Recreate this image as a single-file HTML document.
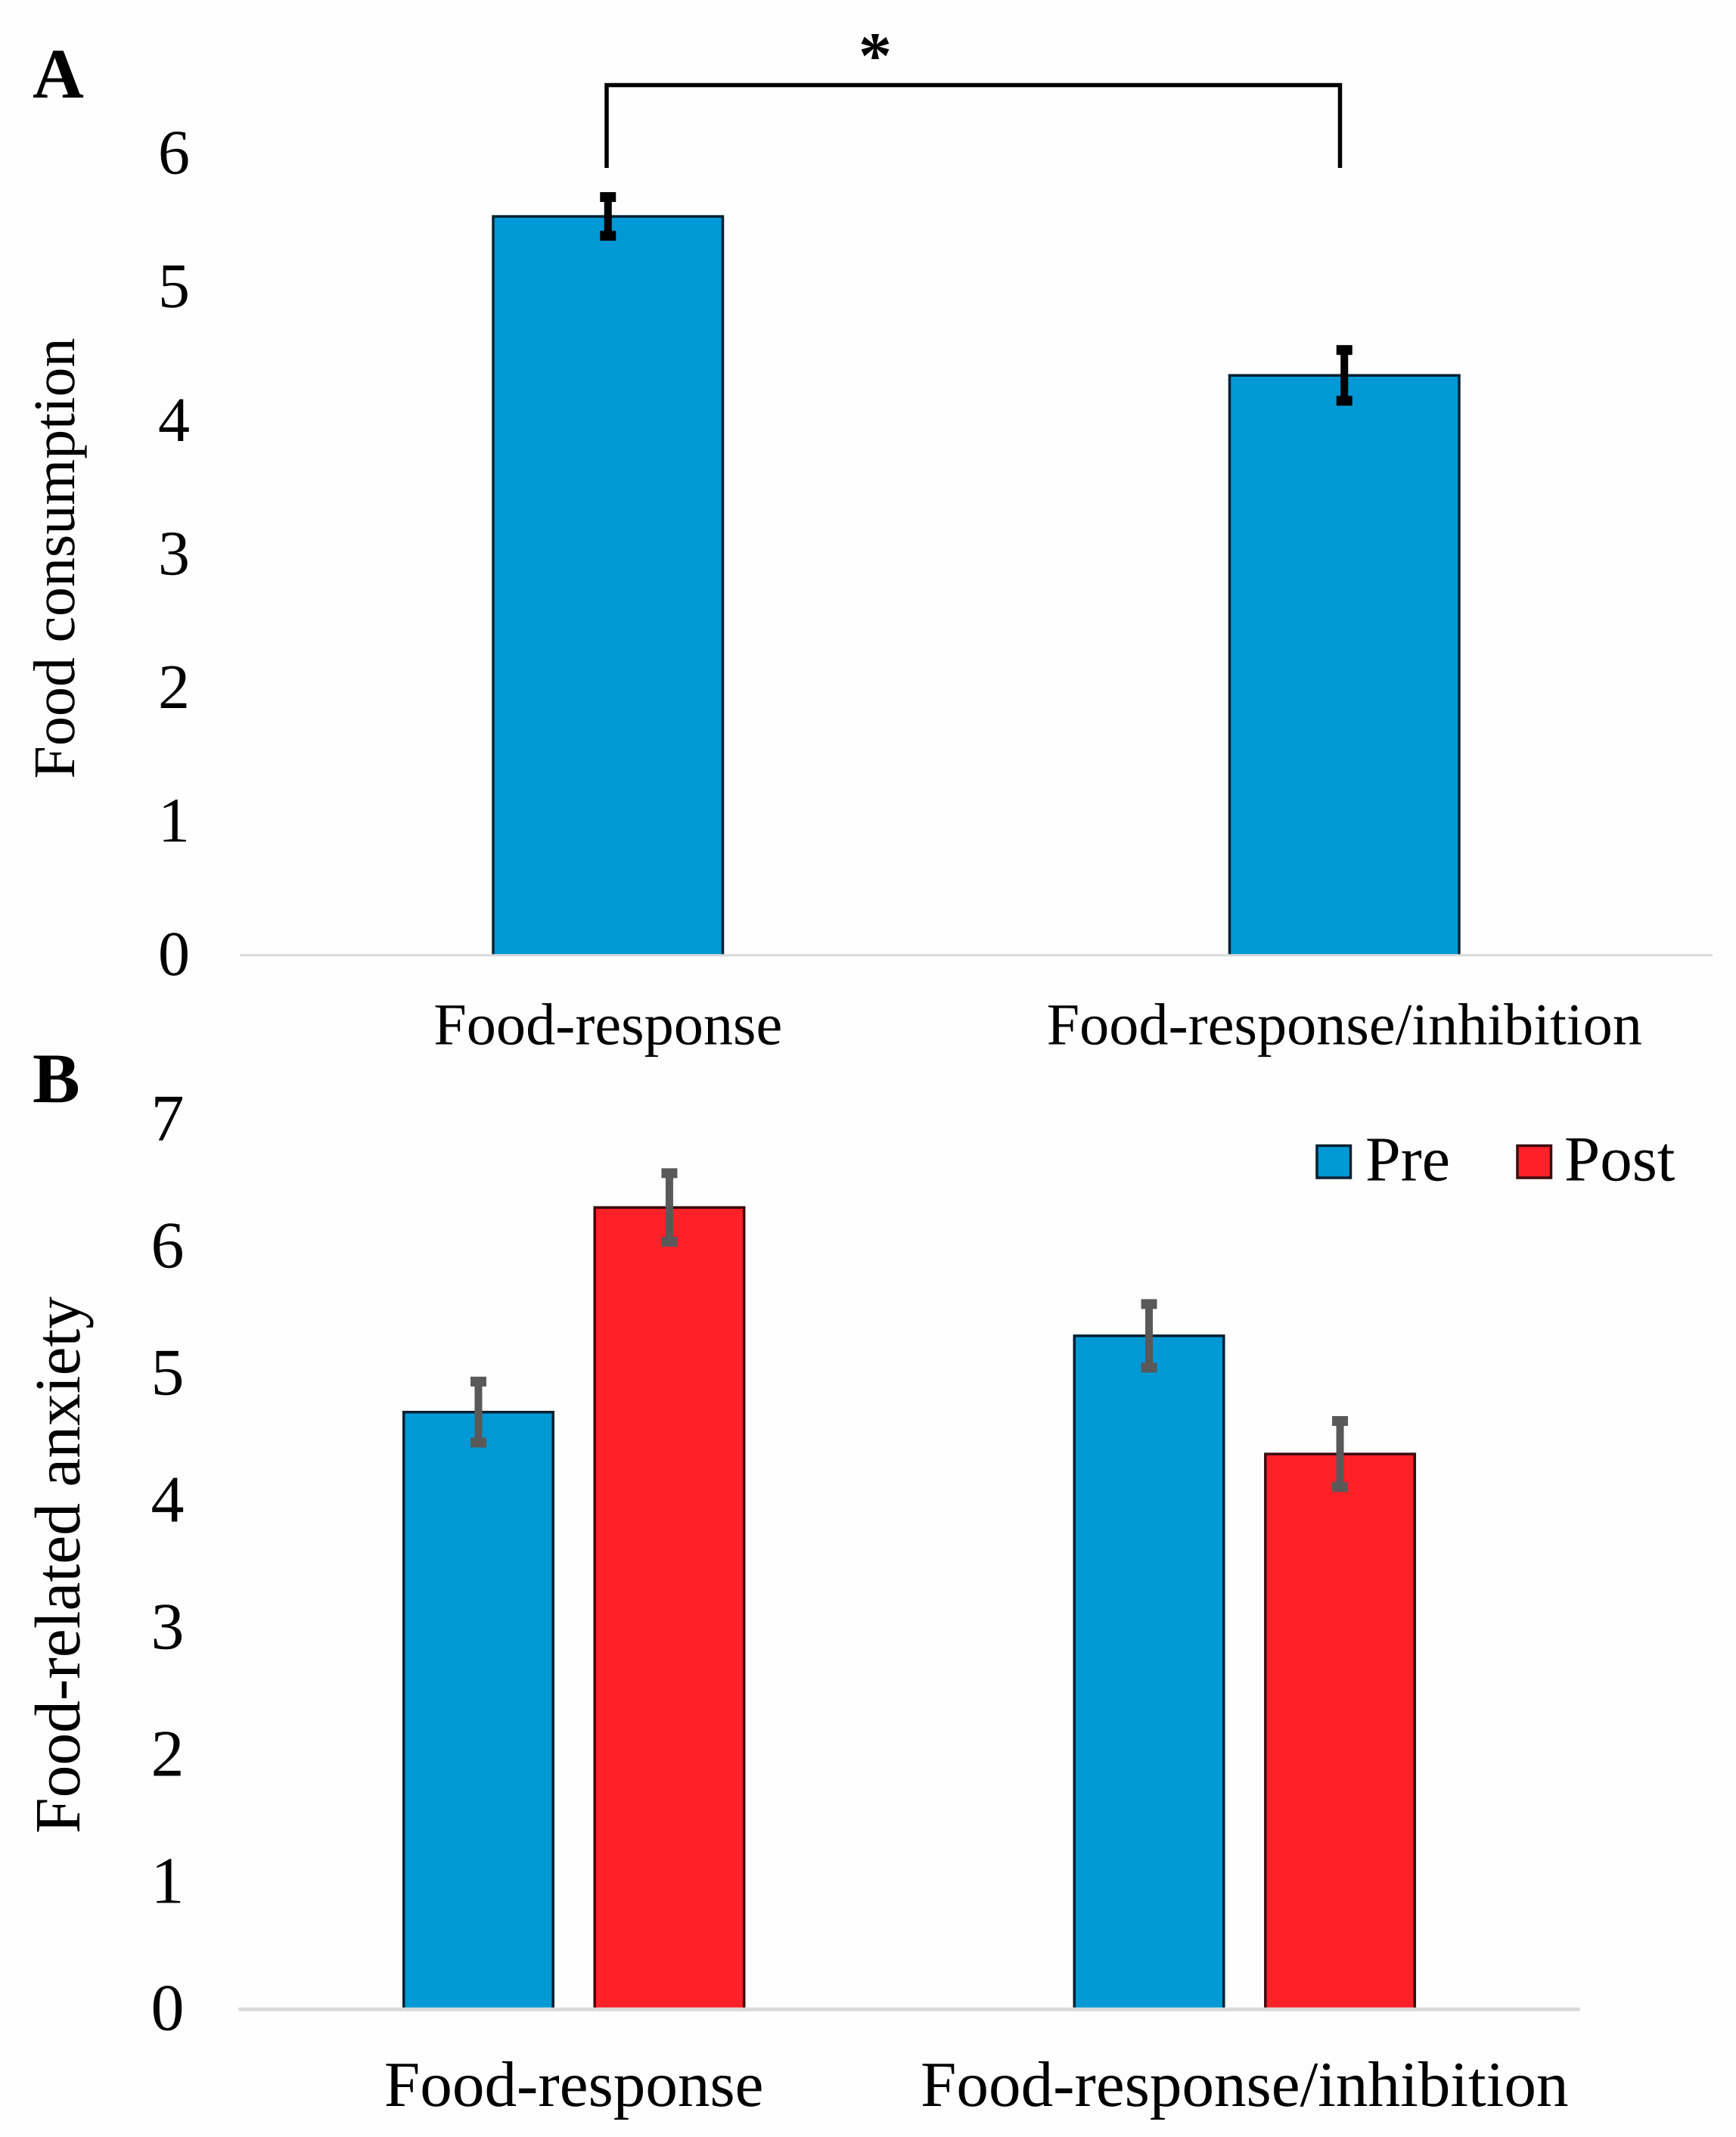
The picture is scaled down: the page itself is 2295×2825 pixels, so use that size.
<!DOCTYPE html>
<html lang="en">
<head>
<meta charset="utf-8">
<title>Food consumption and food-related anxiety</title>
<style>
  html, body { margin: 0; padding: 0; background: #fefefe; }
  #figure { display: block; width: 2295px; height: 2825px; }
  text { font-family: "Liberation Serif", "Times New Roman", serif; fill: #000; text-rendering: geometricPrecision; }
</style>
</head>
<body>
<svg id="figure" xmlns="http://www.w3.org/2000/svg" width="2295" height="2825" viewBox="0 0 2295 2825">
  <rect x="0" y="0" width="2295" height="2825" fill="#fefefe"/>

  <text x="43" y="129" font-size="94" font-weight="700">A</text>
  <text x="43" y="1457" font-size="94" font-weight="700">B</text>

  <text transform="translate(98 738) rotate(-90)" text-anchor="middle" font-size="78">Food consumption</text>
  <text transform="translate(105 2069) rotate(-90)" text-anchor="middle" font-size="85.5">Food-related anxiety</text>

  <g id="panel-a"></g>
  <g id="panel-b"></g>

  <path d="M802 222 V112.5 H1771.5 V222" fill="none" stroke="#000" stroke-width="5.5"/>
  <text x="1157" y="103" text-anchor="middle" font-size="88" font-weight="700">*</text>

  <g>
    <g>
      <rect x="1741" y="1514.5" width="44.5" height="42.5" fill="#0099d5" stroke="#04202f" stroke-width="3.5"/>
      <text x="1805" y="1560.5" font-size="84">Pre</text>
    </g>
    <g>
      <rect x="2006" y="1514.5" width="44.5" height="42.5" fill="#fe2128" stroke="#3a0c0e" stroke-width="3.5"/>
      <text x="2068" y="1560.5" font-size="85">Post</text>
    </g>
  </g>
</svg>

<script>
var categoriesA = ["Food-response", "Food-response/inhibition"];
var valuesA = [5.53, 4.34];
var errorsA = [0.145, 0.19];
var ticksA = [0, 1, 2, 3, 4, 5, 6];

var categoriesB = ["Food-response", "Food-response/inhibition"];
var preValuesB = [4.70, 5.30];
var postValuesB = [6.31, 4.37];
var preErrorsB = [0.24, 0.25];
var postErrorsB = [0.27, 0.26];
var ticksB = [0, 1, 2, 3, 4, 5, 6, 7];

var SVG_NS = "http://www.w3.org/2000/svg";

function make(parent, tag, attrs, content) {
  var el = document.createElementNS(SVG_NS, tag);
  for (var k in attrs) { el.setAttribute(k, attrs[k]); }
  if (content !== undefined) { el.textContent = content; }
  parent.appendChild(el);
  return el;
}

function band(left, right, count) {
  return function (i) { return left + (right - left) * (i + 0.5) / count; };
}
function linear(baseline, unit) {
  return function (v) { return baseline - v * unit; };
}

function drawBar(parent, cx, width, value, y, axisThickness, fill, edge) {
  var x0 = cx - width / 2 + 1.75;
  var x1 = cx + width / 2 - 1.75;
  var bottom = y(0) - axisThickness / 2;
  var d = "M" + x0 + " " + bottom + " V" + y(value) + " H" + x1 + " V" + bottom;
  return make(parent, "path", { d: d, fill: fill, stroke: edge, "stroke-width": 3.5 });
}

function drawError(parent, cx, value, err, y, color, lineWidth) {
  var g = make(parent, "g", {});
  var top = y(value + err);
  var low = y(value - err);
  var stem = make(g, "line", { x1: cx, x2: cx, y1: top, y2: low, stroke: color, "stroke-width": lineWidth });
  
  
  var capTop = make(g, "rect", { x: cx - 10.5, y: top - 6.5, width: 21, height: 13, fill: color });
  
  
  var capLow = make(g, "rect", { x: cx - 10.5, y: low - 6.5, width: 21, height: 13, fill: color });
  
  
  return g;
}

/* Panel A */
(function () {
  var root = document.getElementById("panel-a");
  var left = 317, right = 2264, baseline = 1262.7, thickness = 3;
  var x = band(left, right, categoriesA.length);
  var y = linear(baseline, 176.6);

  ticksA.forEach(function (t) {
    var lab = make(root, "text", { x: 230, y: y(t) + 26.5, "text-anchor": "middle", "font-size": 84 }, String(t));
    
    
  });

  var axis = make(root, "line", { x1: left, x2: right, y1: baseline, y2: baseline, stroke: "#d9d9d9", "stroke-width": thickness });
  
  

  valuesA.forEach(function (v, i) {
    var bar = drawBar(root, x(i), 307, v, y, thickness, "#0099d5", "#04202f");
    
    
    var eb = drawError(root, x(i), v, errorsA[i], y, "#000000", 10);
    
    
  });

  categoriesA.forEach(function (c, i) {
    var lab = make(root, "text", { x: x(i), y: 1380.7, "text-anchor": "middle", "font-size": 78.3 }, c);
    
    
  });
})();

/* Panel B */
(function () {
  var root = document.getElementById("panel-b");
  var left = 315.4, right = 2088.6, baseline = 2656.3, thickness = 5;
  var x = band(left, right, categoriesB.length);
  var y = linear(baseline, 168);
  var barWidth = 201, pitch = 252.5;

  ticksB.forEach(function (t) {
    var lab = make(root, "text", { x: 221.5, y: y(t) + 27.2, "text-anchor": "middle", "font-size": 88 }, String(t));
    
    
  });

  var axis = make(root, "line", { x1: left, x2: right, y1: baseline, y2: baseline, stroke: "#d9d9d9", "stroke-width": thickness });
  
  

  categoriesB.forEach(function (c, i) {
    var cx = x(i);
    var preBar = drawBar(root, cx - pitch / 2, barWidth, preValuesB[i], y, thickness, "#0099d5", "#04202f");
    
    
    var postBar = drawBar(root, cx + pitch / 2, barWidth, postValuesB[i], y, thickness, "#fe2128", "#3a0c0e");
    
    
    var preErr = drawError(root, cx - pitch / 2, preValuesB[i], preErrorsB[i], y, "#595959", 10);
    
    
    var postErr = drawError(root, cx + pitch / 2, postValuesB[i], postErrorsB[i], y, "#595959", 10);
    
    
    var lab = make(root, "text", { x: cx, y: 2784, "text-anchor": "middle", "font-size": 85.2 }, c);
    
    
  });
})();
</script>
</body>
</html>
